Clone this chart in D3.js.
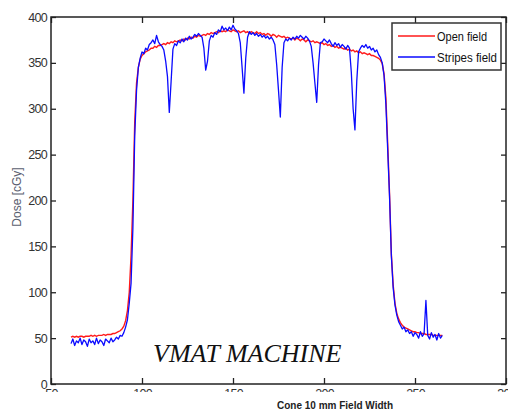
<!DOCTYPE html>
<html>
<head>
<meta charset="utf-8">
<script src="https://cdn.jsdelivr.net/npm/d3@7"></script>
<style>
	body { margin: 0; background: #fff; }
	svg { display: block; }
	.tick text { font-family: 'Liberation Sans', Arial, sans-serif; font-size: 12.5px; letter-spacing: -0.7px; fill: #333; }
	.tick line { stroke: #222; stroke-width: 1.3; }
</style>
</head>
<body>
<svg id="profile"></svg>
<script>
// positions along the profile (mm), one value per mm starting at 61
const startPos = 61

const openField = [
	51, 52, 51, 52, 51, 52, 52, 51, 52, 52,
	52, 53, 52, 53, 52, 53, 53, 53, 54, 53,
	54, 54, 54, 55, 55, 56, 57, 58, 60, 63,
	69, 80, 100, 140, 200, 285, 328, 345, 354, 358,
	360, 362, 363, 364, 366, 366, 368, 367, 369, 369,
	370, 371, 370, 372, 371, 373, 372, 374, 373, 374,
	375, 374, 376, 375, 377, 376, 378, 377, 379, 378,
	380, 379, 380, 381, 380, 382, 381, 383, 382, 383,
	384, 383, 385, 384, 385, 384, 386, 385, 384, 386,
	385, 384, 385, 383, 384, 385, 383, 384, 382, 384,
	383, 382, 384, 382, 383, 381, 382, 380, 382, 381,
	379, 381, 380, 378, 380, 379, 378, 379, 377, 378,
	377, 376, 377, 375, 377, 376, 374, 376, 375, 373,
	375, 374, 373, 374, 372, 373, 372, 371, 372, 370,
	371, 369, 370, 368, 369, 367, 368, 366, 367, 366,
	365, 366, 364, 365, 363, 364, 362, 363, 361, 362,
	360, 361, 360, 359, 360, 358, 358, 357, 356, 355,
	353, 349, 338, 312, 262, 208, 142, 108, 88, 77,
	71, 67, 64, 62, 61, 60, 59, 58, 57, 57,
	56, 56, 55, 55, 55, 54, 54, 54, 54, 53,
	53, 53, 53, 53, 53
]

const stripesField = [
	44, 49, 42, 47, 45, 50, 43, 48, 46, 41,
	49, 45, 47, 43, 50, 44, 48, 46, 42, 49,
	47, 45, 50, 46, 48, 51, 49, 53, 52, 56,
	62, 70, 88, 110, 170, 270, 320, 345, 355, 362,
	360, 366, 364, 370, 372, 375, 371, 380, 373, 370,
	368, 364, 352, 335, 296, 330, 365, 371, 369, 374,
	372, 376, 373, 377, 375, 379, 376, 378, 381, 379,
	382, 380, 378, 366, 342, 352, 374, 380, 378, 383,
	381, 386, 384, 390, 386, 388, 385, 389, 386, 391,
	387, 385, 382, 372, 345, 317, 355, 378, 384, 381,
	383, 380, 382, 379, 381, 378, 380, 377, 379, 376,
	378, 375, 370, 348, 320, 291, 345, 372, 376, 374,
	377, 375, 378, 376, 379, 377, 380, 378, 376, 379,
	377, 374, 368, 350, 328, 307, 348, 372, 373, 376,
	374, 372, 375, 371, 368, 372, 369, 371, 367, 370,
	368, 365, 369, 366, 340, 300, 277, 330, 362, 366,
	369, 367, 370, 366, 368, 364, 366, 362, 364, 359,
	356, 350, 336, 305, 255, 205, 140, 105, 86, 75,
	68, 64, 60, 62, 57, 59, 55, 57, 52, 56,
	54, 50, 57, 52, 55, 91, 53, 49, 56, 51,
	54, 48, 55, 50, 53
]

const xTicks = [50, 100, 150, 200, 250, 300]
const yTicks = [0, 50, 100, 150, 200, 250, 300, 350, 400]

const legendLabels = ['Open field', 'Stripes field']
const legendWidths = [50, 60]
const seriesColors = ['#ff1a1a', '#0a0aff']

function profileChart() {
	const width = 508
	const height = 413

	const plot = { left: 51, right: 506, top: 17, bottom: 384 }

	const xScale = d3.scaleLinear().domain([50, 300]).range([plot.left, plot.right])
	const yScale = d3.scaleLinear().domain([0, 400]).range([plot.bottom, plot.top])

	const svg = d3.select('#profile').attr('width', width).attr('height', height)

	const line = d3
		.line()
		.x((d, i) => xScale(startPos + i))
		.y(d => yScale(d))

	// clip for the half-hidden x labels
	svg
		.append('clipPath')
		.attr('id', 'xlabClip')
		.append('rect')
		.attr('x', 0)
		.attr('y', 0)
		.attr('width', width)
		.attr('height', 392)

	svg
		.append('path')
		.datum(openField)
		.attr('fill', 'none')
		.attr('stroke', seriesColors[0])
		.attr('stroke-width', 1.4)
		.attr('d', line)

	svg
		.append('path')
		.datum(stripesField)
		.attr('fill', 'none')
		.attr('stroke', seriesColors[1])
		.attr('stroke-width', 1.3)
		.attr('stroke-linejoin', 'round')
		.attr('d', line)

	// axes, ticks pointing inward
	const left = svg
		.append('g')
		.attr('transform', `translate(${plot.left},0)`)
		.call(d3.axisLeft(yScale).tickValues(yTicks).tickSizeInner(-5).tickSizeOuter(0).tickPadding(4))
	left.select('.domain').remove()

	svg
		.append('g')
		.attr('transform', `translate(${plot.right},0)`)
		.call(d3.axisRight(yScale).tickValues(yTicks).tickSizeInner(-5).tickSizeOuter(0).tickFormat(''))
		.select('.domain')
		.remove()

	svg
		.append('g')
		.attr('transform', `translate(0,${plot.top})`)
		.call(d3.axisTop(xScale).tickValues(xTicks).tickSizeInner(-6).tickSizeOuter(0).tickFormat(''))
		.select('.domain')
		.remove()

	const bottom = svg
		.append('g')
		.attr('clip-path', 'url(#xlabClip)')
		.append('g')
		.attr('transform', `translate(0,${plot.bottom})`)
		.call(d3.axisBottom(xScale).tickValues(xTicks).tickSizeInner(-6).tickSizeOuter(0).tickPadding(5))
	bottom.select('.domain').remove()

	svg
		.append('rect')
		.attr('x', plot.left)
		.attr('y', plot.top)
		.attr('width', plot.right - plot.left)
		.attr('height', plot.bottom - plot.top)
		.attr('fill', 'none')
		.attr('stroke', '#222')
		.attr('stroke-width', 1.5)

	svg
		.append('text')
		.attr('transform', 'translate(21,197) rotate(-90)')
		.attr('text-anchor', 'middle')
		.attr('font-family', 'Liberation Sans, Arial, sans-serif')
		.attr('font-size', 12)
		.attr('fill', '#5a6070')
		.text('Dose [cGy]')

	svg
		.append('text')
		.attr('x', 335)
		.attr('y', 409)
		.attr('text-anchor', 'middle')
		.attr('font-family', 'Liberation Sans, Arial, sans-serif')
		.attr('font-weight', 'bold')
		.attr('font-size', 10)
		.attr('fill', '#222')
		.text('Cone 10 mm Field Width')

	svg
		.append('text')
		.attr('x', 153)
		.attr('y', 362)
		.attr('font-family', 'Liberation Serif, Times New Roman, serif')
		.attr('font-style', 'italic')
		.attr('font-size', 26)
		.attr('fill', '#111')
		.text('VMAT MACHINE')

	// legend
	const legend = svg.append('g')
	legend
		.append('rect')
		.attr('x', 392)
		.attr('y', 23)
		.attr('width', 109)
		.attr('height', 47)
		.attr('fill', '#fff')
		.attr('stroke', '#333')
		.attr('stroke-width', 1.5)

	legendLabels.forEach((label, i) => {
		const ly = 36 + i * 21
		legend
			.append('line')
			.attr('x1', 398)
			.attr('x2', 435)
			.attr('y1', ly)
			.attr('y2', ly)
			.attr('stroke', seriesColors[i])
			.attr('stroke-width', 1.5)
		legend
			.append('text')
			.attr('x', 437)
			.attr('y', ly + 4.5)
			.attr('font-family', 'Liberation Sans, Arial, sans-serif')
			.attr('font-size', 13)
			.attr('textLength', legendWidths[i])
			.attr('lengthAdjust', 'spacingAndGlyphs')
			.attr('fill', '#111')
			.text(label)
	})
}

profileChart()
</script>
</body>
</html>
